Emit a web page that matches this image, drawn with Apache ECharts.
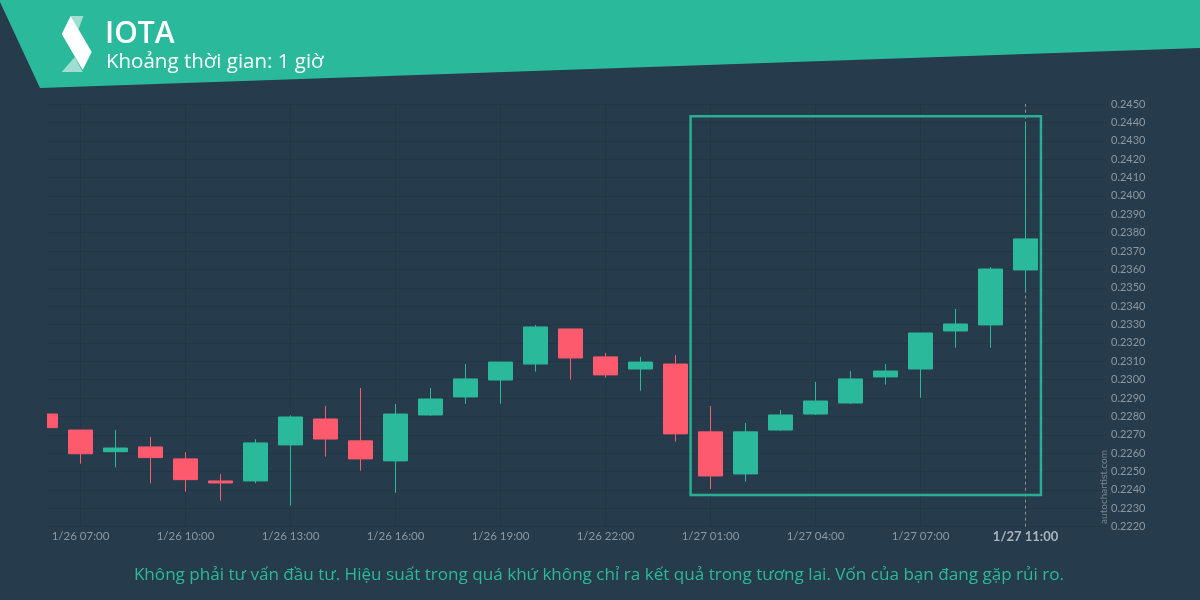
<!DOCTYPE html>
<html>
<head>
<meta charset="utf-8">
<script src="https://cdn.jsdelivr.net/npm/echarts@6/dist/echarts.min.js"></script>
<style>
html,body{margin:0;padding:0;background:#263b4b;}
#chart{width:1200px;height:600px;}
</style>
</head>
<body>
<div id="chart"></div>
<script>
// ---- data ----
const times = ["1/26 06:00","1/26 07:00","1/26 08:00","1/26 09:00","1/26 10:00","1/26 11:00","1/26 12:00","1/26 13:00","1/26 14:00","1/26 15:00","1/26 16:00","1/26 17:00","1/26 18:00","1/26 19:00","1/26 20:00","1/26 21:00","1/26 22:00","1/26 23:00","1/27 00:00","1/27 01:00","1/27 02:00","1/27 03:00","1/27 04:00","1/27 05:00","1/27 06:00","1/27 07:00","1/27 08:00","1/27 09:00","1/27 10:00"];
const opens  = [0.22813,0.22726,0.22608,0.22634,0.22569,0.22449,0.22449,0.22645,0.22786,0.22667,0.22558,0.22808,0.22906,0.22998,0.23085,0.23276,0.23124,0.23058,0.23085,0.22716,0.22487,0.22726,0.22813,0.22873,0.23015,0.23058,0.23265,0.23298,0.23597];
const closes = [0.22739,0.22597,0.22628,0.22576,0.22456,0.22438,0.22656,0.22797,0.22677,0.22569,0.22813,0.22895,0.23004,0.23096,0.23287,0.23118,0.23026,0.23096,0.22705,0.22476,0.22716,0.22808,0.22884,0.23004,0.23047,0.23254,0.23303,0.23602,0.23766];
const lows   = [0.22725,0.22543,0.22523,0.22436,0.22391,0.22342,0.22436,0.22315,0.22581,0.22505,0.22385,0.22803,0.22869,0.22869,0.23044,0.23000,0.23011,0.22940,0.22663,0.22404,0.22445,0.22721,0.22808,0.22868,0.22973,0.22902,0.23174,0.23174,0.23488];
const highs  = [0.22830,0.22726,0.22726,0.22688,0.22605,0.22487,0.22676,0.22806,0.22857,0.22955,0.22868,0.22955,0.23085,0.23096,0.23298,0.23276,0.23145,0.23124,0.23134,0.22857,0.22764,0.22835,0.22988,0.23047,0.23085,0.23254,0.23385,0.23613,0.24400];
const labelIdx = [1,4,7,10,13,16,19,22,25];
const nowIdx = 28;
const nowLabel = "1/27 11:00";
const patternBox = { x0: 18.43, x1: 28.44, top: 0.24433, bottom: 0.22373 };
const yMin = 0.2220, yMax = 0.2450, yStep = 0.001;
const title = "IOTA";
const subtitle = "Khoảng thời gian: 1 giờ";
const disclaimer = "Không phải tư vấn đầu tư. Hiệu suất trong quá khứ không chỉ ra kết quả trong tương lai. Vốn của bạn đang gặp rủi ro.";

// ---- chart ----
const BG = '#263b4b', GREEN = '#2bb99c', RED = '#fd5a6e', GRID = '#223644', LBL = '#8b98a3';
const candleData = times.map((t, i) => [i, opens[i], closes[i], lows[i], highs[i]]);

const chart = echarts.init(document.getElementById('chart'), null, {renderer: 'canvas'});
chart.setOption({
  backgroundColor: BG,
  animation: false,
  grid: { left: 47, right: 95, top: 104, bottom: 73.3 },
  xAxis: {
    type: 'value', min: 0.043, max: 30.27,
    axisLine: { show: false }, axisTick: { show: false, customValues: labelIdx.concat([nowIdx]) },
    splitLine: { show: false },
    axisLabel: {
      customValues: labelIdx.concat([nowIdx]),
      margin: 4, color: LBL, fontFamily: 'Lato', fontSize: 11.5,
      formatter: v => {
        const i = Math.round(v);
        if (i === nowIdx) return '{now|' + nowLabel + '}';
        return times[i];
      },
      rich: { now: { fontFamily: 'Lato', fontSize: 13, fontWeight: 'bold', color: '#aab4bc' } }
    }
  },
  yAxis: {
    type: 'value', position: 'right', min: yMin, max: yMax, interval: yStep,
    axisLine: { show: false }, axisTick: { show: false },
    splitLine: { show: true, lineStyle: { color: GRID, width: 1 } },
    axisLabel: { margin: 6, color: LBL, fontFamily: 'Lato', fontSize: 11, formatter: v => v.toFixed(4) }
  },
  series: [{
    type: 'candlestick',
    data: candleData,
    encode: { x: 0, y: [1, 2, 3, 4] },
    barWidth: 24,
    clip: true,
    z: 3,
    itemStyle: { color: GREEN, color0: RED, borderColor: GREEN, borderColor0: RED, borderWidth: 1 },
    markLine: {
      silent: true, symbol: 'none', z: 1, animation: false,
      label: { show: false },
      data: labelIdx.map(i => ({ xAxis: i, lineStyle: { color: GRID, width: 1, type: 'solid' } }))
        .concat([{ xAxis: nowIdx, lineStyle: { color: '#8a9096', width: 1, type: [3, 3] } }])
    },
    markArea: {
      silent: true, z: 4,
      itemStyle: { color: 'rgba(0,0,0,0)', borderColor: '#2aae93', borderWidth: 2.5 },
      data: [[{ coord: [patternBox.x0, patternBox.top] }, { coord: [patternBox.x1, patternBox.bottom] }]]
    }
  }],
  graphic: [
    // plot-area left edge mask (clips the partially visible first candle)
    { type: 'rect', shape: { x: 0, y: 90, width: 47, height: 440 }, style: { fill: BG }, z: 8 },
    { type: 'polygon', shape: { points: [[0,0],[1200,0],[1200,48],[40,88],[0,2]] }, style: { fill: GREEN }, z: 10 },
    { type: 'polygon', shape: { points: [[70.7,16],[83.3,16],[78.5,29.5]] }, style: { fill: '#9fded0' }, z: 11 },
    { type: 'polygon', shape: { points: [[61.7,72],[82.7,72],[74.8,57]] }, style: { fill: '#9fded0' }, z: 11 },
    { type: 'polygon', shape: { points: [[70.7,16],[91.7,52],[82.7,70],[61.7,34]] }, style: { fill: '#ffffff' }, z: 12 },
    { type: 'text', x: 105, y: 34, z: 12, style: { text: title, fill: '#ffffff', font: '600 30px "Open Sans", sans-serif', verticalAlign: 'middle' } },
    { type: 'text', x: 106, y: 62, z: 12, style: { text: subtitle, fill: '#ffffff', font: '20.5px "Open Sans", sans-serif', verticalAlign: 'middle' } },
    { type: 'text', x: 599, y: 575, z: 12, style: { text: disclaimer, fill: GREEN, font: '17.1px "Open Sans", sans-serif', align: 'center', verticalAlign: 'middle' } },
    { type: 'text', x: 1103.5, y: 487, rotation: Math.PI / 2, z: 12, style: { text: 'autochartist.com', fill: '#7b8893', font: '10px Lato, sans-serif', align: 'center', verticalAlign: 'middle' } }
  ]
});
</script>
</body>
</html>
